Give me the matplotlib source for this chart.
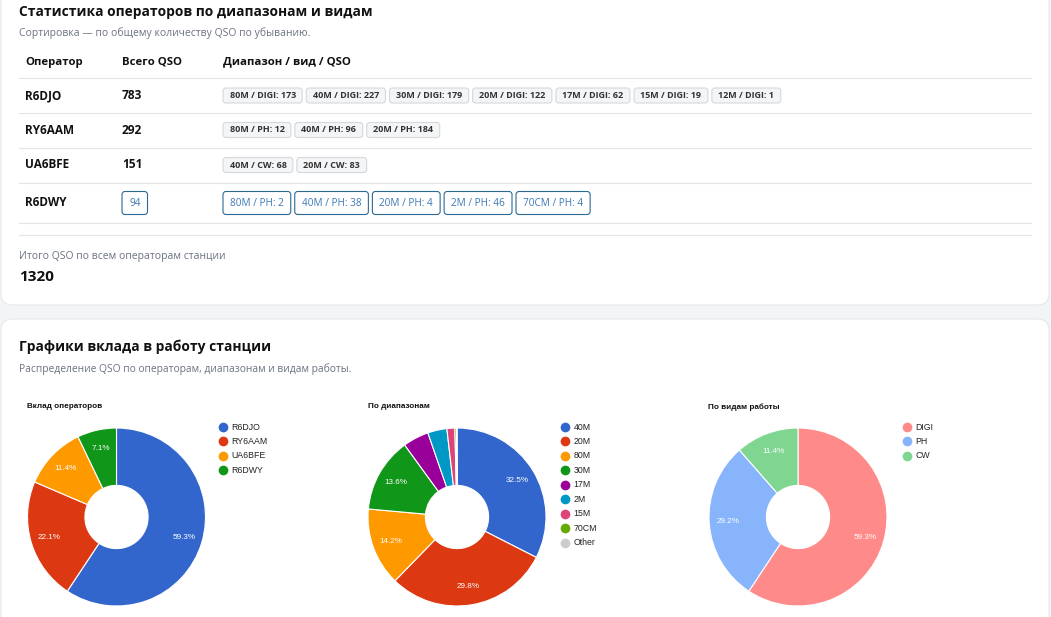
import numpy as np
import matplotlib
matplotlib.use('Agg')
from matplotlib import pyplot as plt
from matplotlib.patches import FancyBboxPatch

# данные таблицы
operators = ['R6DJO', 'RY6AAM', 'UA6BFE', 'R6DWY']
operator_qso = [783, 292, 151, 94]
operator_badges = [
    ['80M / DIGI: 173', '40M / DIGI: 227', '30M / DIGI: 179', '20M / DIGI: 122',
     '17M / DIGI: 62', '15M / DIGI: 19', '12M / DIGI: 1'],
    ['80M / PH: 12', '40M / PH: 96', '20M / PH: 184'],
    ['40M / CW: 68', '20M / CW: 83'],
    ['80M / PH: 2', '40M / PH: 38', '20M / PH: 4', '2M / PH: 46', '70CM / PH: 4'],
]
total_qso = 1320

# данные диаграмм
band_names = ['40M', '20M', '80M', '30M', '17M', '2M', '15M', '70CM', 'Other']
band_qso = [429, 393, 187, 179, 62, 46, 19, 4, 1]
mode_names = ['DIGI', 'PH', 'CW']
mode_qso = [783, 386, 151]

op_colors = ['#3366cc', '#dc3912', '#ff9900', '#109618']
band_colors = ['#3366cc', '#dc3912', '#ff9900', '#109618', '#990099',
               '#0099c6', '#dd4477', '#66aa00', '#cccccc']
mode_colors = ['#ff8a8a', '#88b4fb', '#7fd691']

W, H = 1051, 617
PAGE = 'Open Sans'
CHART = 'Liberation Sans'

fig = plt.figure(figsize=(W / 100, H / 100), dpi=100)
fig.patch.set_facecolor('#f3f4f6')
bg = fig.add_axes([0, 0, 1, 1])
bg.set_xlim(0, W)
bg.set_ylim(H, 0)
bg.axis('off')
renderer = fig.canvas.get_renderer()

# карточки
for y0, y1 in [(-30, 305), (319, 660)]:
    bg.add_patch(FancyBboxPatch((1, y0), 1048, y1 - y0,
                                boxstyle='round,pad=0,rounding_size=12',
                                fc='white', ec='#e6e8eb', lw=0.8))

bg.text(19, 12, 'Статистика операторов по диапазонам и видам', family=PAGE,
        fontsize=9.9, fontweight='bold', color='#111', va='center')
bg.text(19, 33, 'Сортировка — по общему количеству QSO по убыванию.', family=PAGE,
        fontsize=7.5, color='#6b7280', va='center')

# шапка таблицы
for x, s in [(25, 'Оператор'), (122, 'Всего QSO'), (223, 'Диапазон / вид / QSO')]:
    bg.text(x, 62, s, family=PAGE, fontsize=8.2, fontweight='bold', color='#111', va='center')
for y in [77.5, 112.5, 147.5, 183, 222.5, 235]:
    bg.plot([19, 1031], [y, y], color='#e2e4e7', lw=0.8)


def badge(x, y, text, outline=False):
    if outline:
        padx, h, fs, fw, tc, fc, ec = 7, 23, 7.2, 'normal', '#3b78b5', 'white', '#2d6a93'
    else:
        padx, h, fs, fw, tc, fc, ec = 6.5, 15, 6.5, 'bold', '#333', '#f4f5f7', '#d5d8dc'
    t = bg.text(x + padx, y, text, family=PAGE, fontsize=fs, fontweight=fw,
                color=tc, va='center', ha='left', zorder=3)
    w = t.get_window_extent(renderer).width
    bg.add_patch(FancyBboxPatch((x, y - h / 2), w + 2 * padx, h,
                                boxstyle='round,pad=0,rounding_size=3',
                                fc=fc, ec=ec, lw=0.8, zorder=2))
    return x + w + 2 * padx + 4


row_y = [95.5, 130, 165, 203]
for i, name in enumerate(operators):
    y = row_y[i]
    outline = i == 3
    bg.text(25, y, name, family=PAGE, fontsize=8.5, fontweight='bold', color='#111', va='center')
    if outline:
        badge(122, y, str(operator_qso[i]), outline=True)
    else:
        bg.text(122, y, str(operator_qso[i]), family=PAGE, fontsize=8.6,
                fontweight='bold', color='#111', va='center')
    x = 223
    for s in operator_badges[i]:
        x = badge(x, y, s, outline)

bg.text(19, 256, 'Итого QSO по всем операторам станции', family=PAGE,
        fontsize=7.5, color='#6b7280', va='center')
bg.text(19, 277, str(total_qso), family=PAGE, fontsize=11, fontweight='bold',
        color='#111', va='center')

bg.text(19, 347, 'Графики вклада в работу станции', family=PAGE,
        fontsize=9.9, fontweight='bold', color='#111', va='center')
bg.text(19, 369, 'Распределение QSO по операторам, диапазонам и видам работы.', family=PAGE,
        fontsize=7.4, color='#6b7280', va='center')


def donut(cx, cy, title, tx, names, values, colors, lx):
    R = 89
    ax = fig.add_axes([(cx - R) / W, 1 - (cy + R) / H, 2 * R / W, 2 * R / H])
    wedges, _ = ax.pie(values, colors=colors, startangle=90, counterclock=False,
                       radius=1, wedgeprops=dict(width=0.645, edgecolor='white', linewidth=0.8))
    for wdg in wedges:
        wdg.set_clip_on(False)
    ax.set_xlim(-1, 1)
    ax.set_ylim(-1, 1)
    ax.axis('off')
    total = sum(values)
    cum = 0
    for v in values:
        frac = v / total
        mid = cum + frac / 2
        cum += frac
        if frac < 0.05:
            continue
        th = np.deg2rad(90 - 360 * mid)
        ax.text(0.79 * np.cos(th), 0.79 * np.sin(th), '%.1f%%' % (100 * frac),
                family=CHART, fontsize=5.9, color='white', ha='center', va='center')
    bg.text(tx, 407, title, family=CHART, fontsize=5.9, fontweight='bold',
            color='#111', va='center')
    for k, (n, c) in enumerate(zip(names, colors)):
        y = 427 + 14.45 * k
        bg.plot(lx, y, 'o', ms=7, color=c, mec='none')
        bg.text(lx + 8.5, y, n, family=CHART, fontsize=6.3, color='#222', va='center')


donut(116.5, 517, 'Вклад операторов', 27, operators, operator_qso, op_colors, 223)
donut(457, 517, 'По диапазонам', 368, band_names, band_qso, band_colors, 565)
donut(798, 517, 'По видам работы', 708, mode_names, mode_qso, mode_colors, 906.5)

fig.savefig('out.png', dpi=100, facecolor=fig.get_facecolor())
